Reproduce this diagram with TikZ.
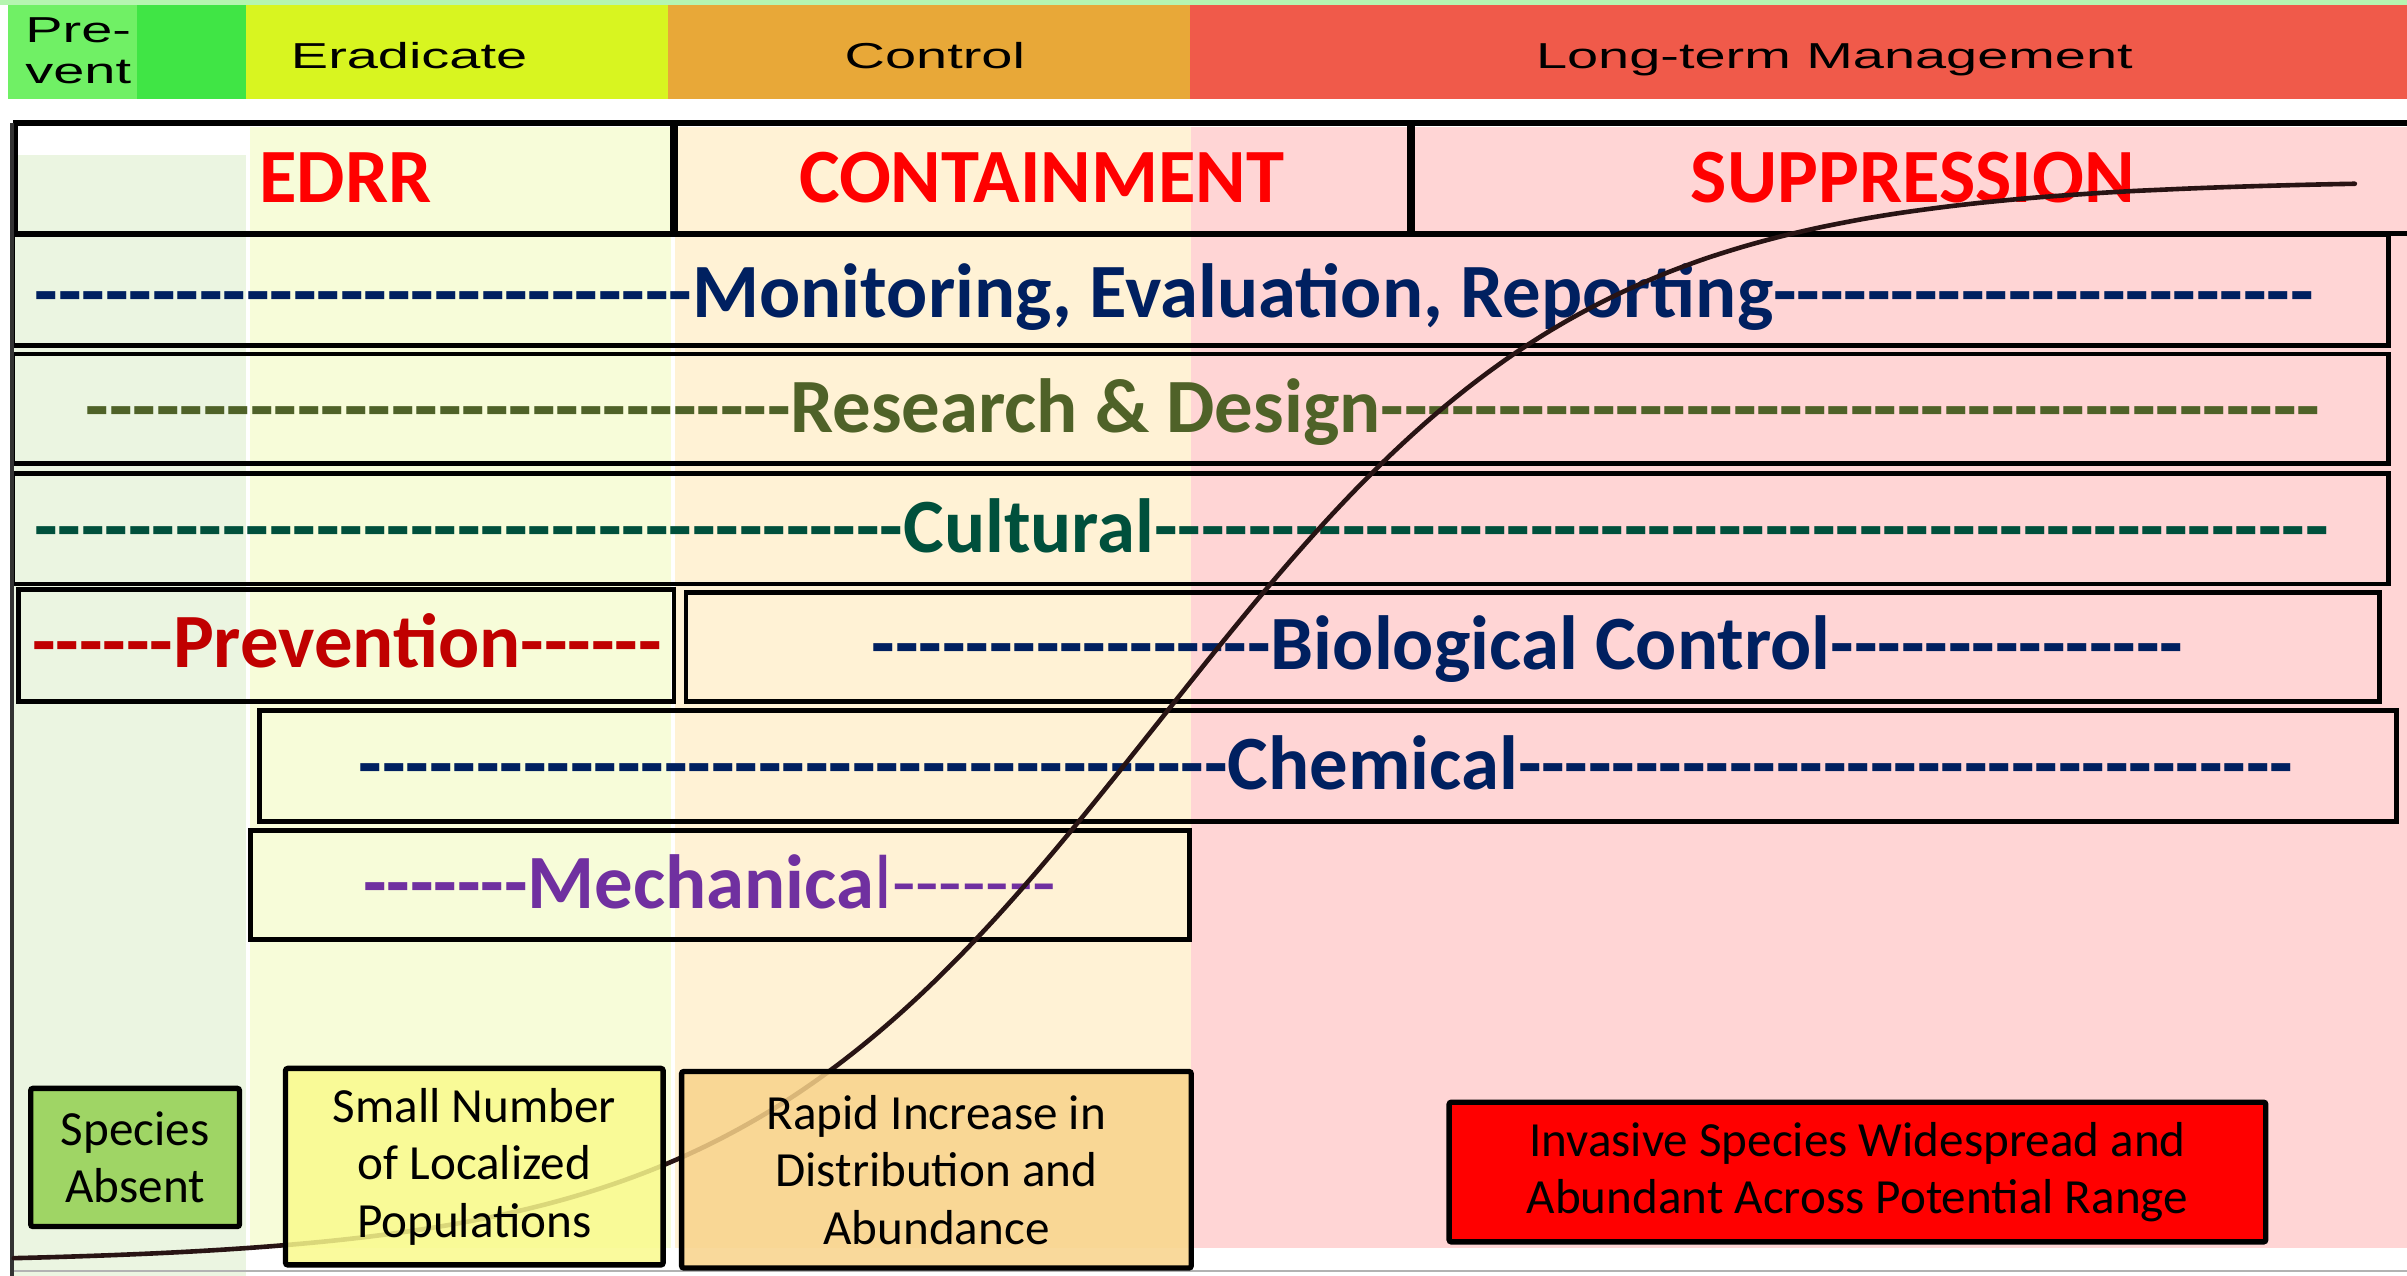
\documentclass[tikz,border=0pt]{standalone}
\usepackage{fontspec}
\setmainfont{Carlito}[Ligatures=TeXOff]
\newfontfamily\bandfont{Liberation Sans}[FakeStretch=1.55]
\usetikzlibrary{positioning}

% phase band
\definecolor{stripgreen}{RGB}{181,245,176}
\definecolor{preventgreen}{RGB}{112,240,101}
\definecolor{brightgreen}{RGB}{64,229,69}
\definecolor{eradyellow}{RGB}{216,245,32}
\definecolor{ctrlorange}{RGB}{232,168,56}
\definecolor{mgmtred}{RGB}{240,90,74}
% columns
\definecolor{bggreen}{RGB}{235,245,225}
\definecolor{bgyellow}{RGB}{247,252,217}
\definecolor{bgorange}{RGB}{255,242,213}
\definecolor{bgpink}{RGB}{255,213,213}
% label colours
\definecolor{navyblue}{RGB}{0,32,96}
\definecolor{rdolive}{RGB}{79,98,40}
\definecolor{cultgreen}{RGB}{0,80,60}
\definecolor{prevred}{RGB}{192,0,0}
\definecolor{mechpurple}{RGB}{112,48,160}
% stage boxes
\definecolor{absentgreen}{RGB}{146,208,80}
\definecolor{smallyellow}{RGB}{250,250,140}
\definecolor{rapidorange}{RGB}{248,211,138}
\definecolor{growthbrown}{RGB}{40,20,20}

\newcommand{\dashes}[1]{\foreach \dsh in {1,...,#1}{-}}

\tikzset{
    rowbox/.style = {rectangle, draw=black, line width=3pt, inner sep=0pt},
    rowlabel/.style = {anchor=base, inner sep=0pt, font=\bfseries\fontsize{50}{60}\selectfont},
    phaselabel/.style = {rowlabel, text=red},
    bandlabel/.style = {anchor=base, inner sep=0pt, font=\bandfont\fontsize{23.5}{27}\selectfont},
    stagebox/.style = {rectangle, draw=black, line width=3.5pt, rounded corners=1.5pt, align=center,
        fill opacity=0.85, text opacity=1, inner sep=0pt, font=\fontsize{32}{37.5}\selectfont},
    growth/.style = {line width=3pt, draw=growthbrown, line cap=round},
}

\begin{document}
\begin{tikzpicture}[x=1pt,y=-1pt]
\useasboundingbox[fill=white] (0,0) rectangle (1568,831);

% management phases along the top
\fill[stripgreen] (0,0) rectangle (1568,3.3);
\fill[preventgreen] (5,3.3) rectangle (89,64.5);
\fill[brightgreen] (89,3.3) rectangle (160,64.5);
\fill[eradyellow] (160,3.3) rectangle (435,64.5);
\fill[ctrlorange] (435,3.3) rectangle (775,64.5);
\fill[mgmtred] (775,3.3) rectangle (1568,64.5);
\node[bandlabel, anchor=center, align=left] (prevent) at (51,33) {Pre-\\vent};
\node[bandlabel] (eradicate) at (266.5,44.5) {Eradicate};
\node[bandlabel] (control) at (609,44.5) {Control};
\node[bandlabel] (longterm) at (1195,44.5) {Long-term Management};

% shaded columns
\fill[bggreen] (8,101) rectangle (160,831);
\fill[bgyellow] (163,83) rectangle (437,813);
\fill[bgorange] (440,83) rectangle (776,813);
\fill[bgpink] (776,83) rectangle (1568,813);

% tool rows
\node[rowbox, line width=3.5pt, minimum width=428pt, minimum height=72pt] (edrr) at (224,116) {};
\node[rowbox, line width=3.5pt, minimum width=478pt, minimum height=72pt] (containment) at (679,116) {};
\node[rowbox, line width=3.5pt, minimum width=655pt, minimum height=72pt] (suppression) at (1247.5,116) {};
\node[rowbox, minimum width=1548pt, minimum height=72pt] (monitoring) at (782,189) {};
\node[rowbox, minimum width=1548pt, minimum height=71.5pt] (research) at (782,266.25) {};
\node[rowbox, minimum width=1548pt, minimum height=72pt] (cultural) at (782,344.5) {};
\node[rowbox, minimum width=427pt, minimum height=73pt] (prevention) at (225.5,420.5) {};
\node[rowbox, minimum width=1103pt, minimum height=71pt] (biocontrol) at (998.5,421.5) {};
\node[rowbox, minimum width=1392pt, minimum height=72pt] (chemical) at (865,499) {};
\node[rowbox, minimum width=612pt, minimum height=71pt] (mechanical) at (469,576.5) {};

\node[phaselabel] (edrrtxt) at (225,132) {EDRR};
\node[phaselabel] (containtxt) at (678.5,132) {CONTAINMENT};
\node[phaselabel] (supptxt) at (1246,132) {SUPPRESSION};
\node[rowlabel, text=navyblue] (montxt) at (765,207) {\dashes{28}Monitoring, Evaluation, Reporting\dashes{23}};
\node[rowlabel, text=rdolive] (restxt) at (784,282) {\dashes{30}Research \& Design\dashes{40}};
\node[rowlabel, text=cultgreen] (culttxt) at (770,360) {\dashes{37}Cultural\dashes{50}};
\node[rowlabel, text=prevred] (prevtxt) at (226,435) {\dashes{6}Prevention\dashes{6}};
\node[rowlabel, text=navyblue] (biotxt) at (995,436) {\dashes{17}Biological Control\dashes{15}};
\node[rowlabel, text=navyblue] (chemtxt) at (864,514) {\dashes{37}Chemical\dashes{33}};
\node[rowlabel, text=mechpurple] (mechtxt) at (462.5,592) {\dashes{7}Mechanica{\mdseries l\dashes{7}}};

% axes
\draw[gray!60, line width=1.5pt] (8,828) -- (1568,828);
\draw[black!80, line width=2.5pt] (8,80) -- (8,831);

% invasion curve
\draw[growth] plot[smooth, samples=120, domain=9:1534] (\x, {823-706/(1+exp(-(\x-755)/140))});

% invasion stages
\node[stagebox, fill=absentgreen, minimum width=136pt, minimum height=90pt] (absent) at (88,754) {Species\\Absent};
\node[stagebox, fill=smallyellow, minimum width=246pt, minimum height=128pt] (smallpop) at (309,760) {Small Number\\of Localized\\Populations};
\node[stagebox, fill=rapidorange, minimum width=332pt, minimum height=128pt] (rapid) at (610,762) {Rapid Increase in\\Distribution and\\Abundance};
\node[stagebox, fill=red, fill opacity=1, minimum width=532pt, minimum height=91pt] (widespread) at (1210,763.5) {Invasive Species Widespread and\\Abundant Across Potential Range};

\end{tikzpicture}
\end{document}
